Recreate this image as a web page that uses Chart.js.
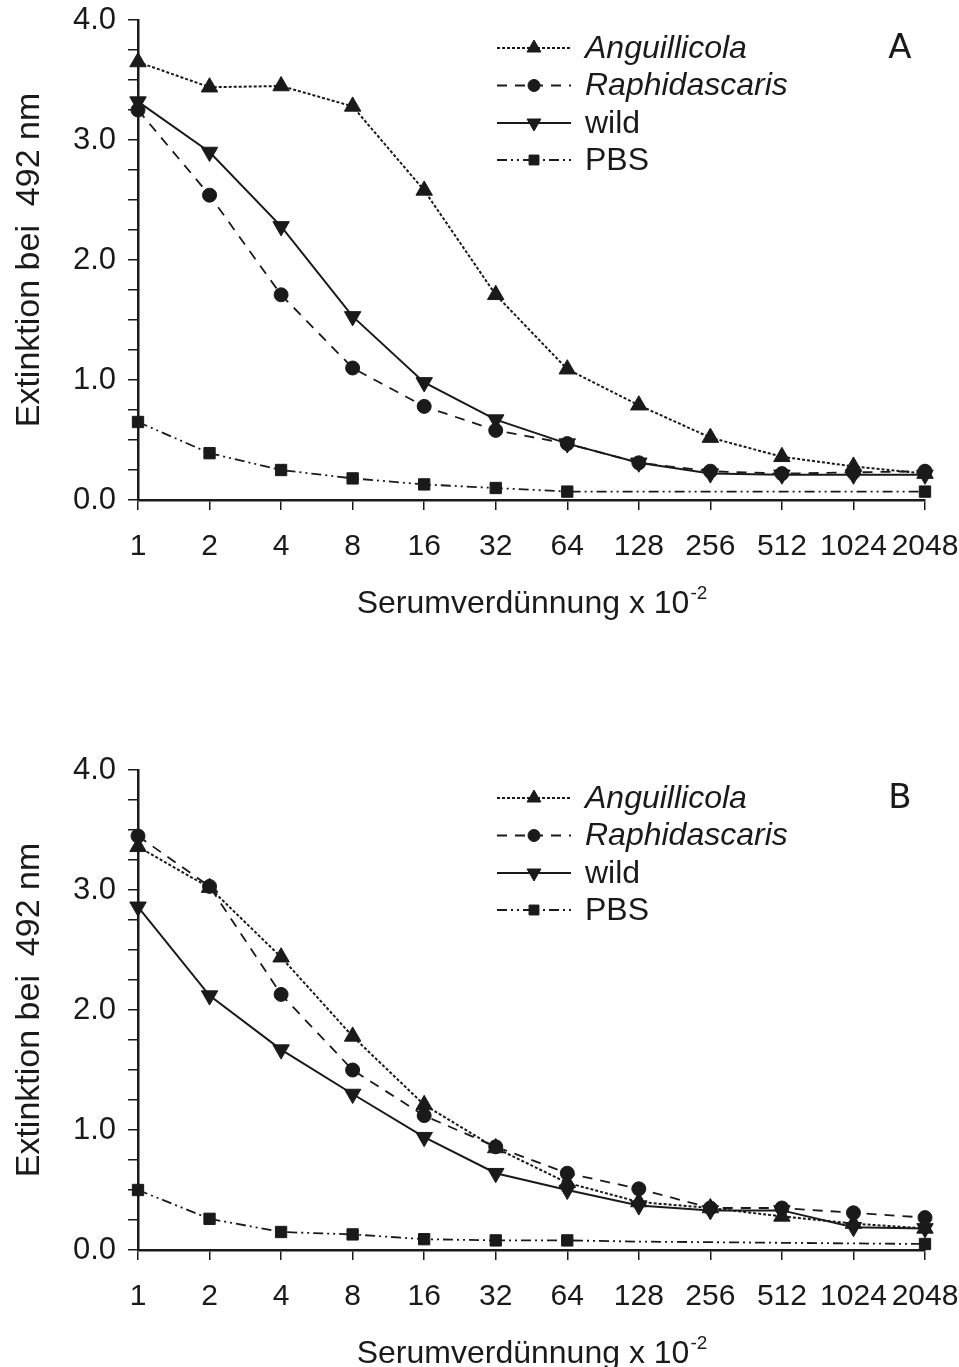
<!DOCTYPE html>
<html>
<head>
<meta charset="utf-8">
<script src="https://cdn.jsdelivr.net/npm/chart.js@4.4.0/dist/chart.umd.min.js"></script>
<style>
  html, body { margin: 0; padding: 0; background: #fff; overflow: hidden; }
  .panel { position: absolute; left: 0; width: 959px; height: 640px; }
  #panelA { top: 0; }
  #panelB { top: 750px; }
</style>
</head>
<body>
<div class="panel" id="panelA"><canvas id="chartA" width="959" height="640"></canvas></div>
<div class="panel" id="panelB"><canvas id="chartB" width="959" height="640"></canvas></div>
<script>
// dilution steps (x 10^-2)
const categories = ['1', '2', '4', '8', '16', '32', '64', '128', '256', '512', '1024', '2048'];
const seriesNames = ['Anguillicola', 'Raphidascaris', 'wild', 'PBS'];
const yTickLabels = ['0.0', '1.0', '2.0', '3.0', '4.0'];

// panel A
const aAnguillicola = [3.65, 3.44, 3.45, 3.28, 2.58, 1.71, 1.09, 0.79, 0.52, 0.36, 0.28, 0.22];
const aRaphidascaris = [3.25, 2.54, 1.71, 1.10, 0.78, 0.58, 0.47, 0.31, 0.24, 0.22, 0.23, 0.24];
const aWild = [3.32, 2.90, 2.28, 1.53, 0.98, 0.67, 0.47, 0.31, 0.22, 0.21, 0.21, 0.21];
const aPBS = [0.65, 0.39, 0.25, 0.18, 0.13, 0.10, 0.07, 0.07, 0.07, 0.07, 0.07, 0.07];

// panel B
const bAnguillicola = [3.36, 3.02, 2.44, 1.78, 1.21, 0.85, 0.56, 0.40, 0.35, 0.28, 0.22, 0.18];
const bRaphidascaris = [3.45, 3.03, 2.13, 1.50, 1.12, 0.86, 0.64, 0.51, 0.35, 0.35, 0.31, 0.27];
const bWild = [2.86, 2.12, 1.67, 1.30, 0.94, 0.64, 0.50, 0.37, 0.33, 0.33, 0.19, 0.18];
const bPBS = [0.50, 0.26, 0.15, 0.13, 0.09, 0.08, 0.08, 0.07, 0.065, 0.06, 0.055, 0.05];

const yTitle = 'Extinktion bei  492 nm';
const xTitle = 'Serumverdünnung x 10';
const xTitleExp = '-2';

const INK = '#1a1a1a';
const FONT = "'Liberation Sans', Arial, Helvetica, sans-serif";

// line style + marker per series
const styles = [
  { dash: [3, 2], width: 2, point: 'triangle', rot: 0, r: 9.5, lr: 8 },
  { dash: [10, 8], width: 1.8, point: 'circle', rot: 0, r: 7, lr: 6 },
  { dash: [], width: 2, point: 'triangle', rot: 180, r: 9.5, lr: 8 },
  { dash: [10, 4, 2, 4, 2, 4], width: 1.8, point: 'rect', rot: 0, r: 8, lr: 7 }
];
// PBS markers only drawn where the original shows them
const pbsRadius = [8, 8, 8, 8, 8, 8, 8, 0, 0, 0, 0, 8];

const decor = {
  id: 'decor',
  afterDraw(chart, args, opts) {
    const ctx = chart.ctx;
    const area = chart.chartArea;
    ctx.save();
    ctx.fillStyle = INK;
    ctx.strokeStyle = INK;

    // y title
    ctx.save();
    ctx.translate(30, (area.top + area.bottom) / 2);
    ctx.rotate(-Math.PI / 2);
    ctx.font = '34px ' + FONT;
    ctx.textAlign = 'center';
    ctx.textBaseline = 'middle';
    ctx.fillText(yTitle, 0, 0);
    ctx.restore();

    // x title with superscript
    ctx.font = '32px ' + FONT;
    const w1 = ctx.measureText(xTitle).width;
    ctx.font = '19px ' + FONT;
    const w2 = ctx.measureText(xTitleExp).width;
    const x0 = (area.left + area.right) / 2 - (w1 + w2) / 2;
    ctx.textAlign = 'left';
    ctx.textBaseline = 'alphabetic';
    ctx.font = '32px ' + FONT;
    ctx.fillText(xTitle, x0, 613);
    ctx.font = '19px ' + FONT;
    ctx.fillText(xTitleExp, x0 + w1 + 1, 599);

    // legend
    const rows = [48, 85.5, 123, 160];
    chart.data.datasets.forEach((ds, i) => {
      const s = styles[i];
      const y = rows[i];
      ctx.save();
      ctx.lineWidth = s.width;
      ctx.setLineDash(s.dash);
      ctx.beginPath();
      ctx.moveTo(497, y);
      ctx.lineTo(571, y);
      ctx.stroke();
      ctx.restore();
      Chart.helpers.drawPoint(ctx, { pointStyle: s.point, rotation: s.rot, radius: s.lr, borderWidth: 1 }, 534, y);
      ctx.font = (i < 2 ? 'italic ' : '') + '32px ' + FONT;
      ctx.textAlign = 'left';
      ctx.textBaseline = 'middle';
      ctx.fillText(seriesNames[i], 585, y + 1);
    });

    // panel letter
    ctx.font = "34px 'DejaVu Sans', " + FONT;
    ctx.textAlign = 'center';
    ctx.textBaseline = 'middle';
    ctx.fillText(opts.letter, 900, 49);
    ctx.restore();
  }
};

function makeDatasets(values) {
  return values.map((v, i) => ({
    label: seriesNames[i],
    data: v,
    borderColor: INK,
    backgroundColor: INK,
    borderWidth: styles[i].width,
    borderDash: styles[i].dash,
    pointStyle: styles[i].point,
    pointRotation: styles[i].rot,
    pointRadius: i === 3 ? pbsRadius : styles[i].r,
    pointBorderWidth: 1,
    pointBackgroundColor: INK,
    pointBorderColor: INK,
    tension: 0,
    fill: false,
    clip: false
  }));
}

function createChart(id, letter, values) {
  const ctx = document.getElementById(id).getContext('2d');
  return new Chart(ctx, {
    type: 'line',
    data: { labels: categories, datasets: makeDatasets(values) },
    options: {
      responsive: false,
      animation: false,
      events: [],
      layout: { padding: { left: 0, right: 34, top: 20, bottom: 0 } },
      plugins: { legend: { display: false }, tooltip: { enabled: false }, decor: { letter: letter } },
      scales: {
        x: {
          offset: false,
          border: { display: true, color: INK, width: 2.5 },
          grid: { display: true, drawOnChartArea: false, drawTicks: true, tickLength: 10, color: INK, lineWidth: 1.5, offset: false },
          ticks: { color: INK, font: { family: FONT, size: 30 }, padding: 19, maxRotation: 0, autoSkip: false },
          afterFit(scale) {
            scale.height = 140;
            scale.paddingLeft = 0;
            scale.paddingRight = 0;
          }
        },
        y: {
          min: 0,
          max: 4,
          border: { display: true, color: INK, width: 2.5 },
          grid: { display: true, drawOnChartArea: false, drawTicks: true, tickLength: 10, color: INK, lineWidth: 1.5 },
          ticks: {
            stepSize: 0.25,
            autoSkip: false,
            maxTicksLimit: 40,
            color: INK,
            font: { family: FONT, size: 31 },
            padding: 12,
            callback: (v) => Number.isInteger(v) ? yTickLabels[v] : ''
          },
          afterFit(scale) {
            scale.width = 138;
            scale.paddingTop = 0;
            scale.paddingBottom = 0;
          }
        }
      }
    },
    plugins: [decor]
  });
}

createChart('chartA', 'A', [aAnguillicola, aRaphidascaris, aWild, aPBS]);
createChart('chartB', 'B', [bAnguillicola, bRaphidascaris, bWild, bPBS]);
</script>
</body>
</html>
